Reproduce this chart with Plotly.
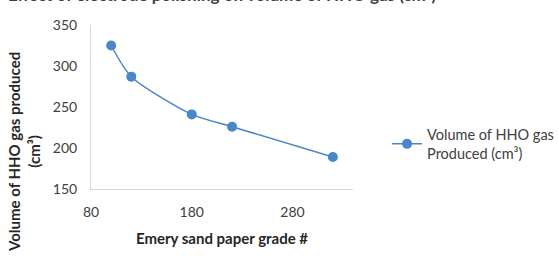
import plotly.graph_objects as go

grades = [100, 120, 180, 220, 320]
volume = [325, 287, 241, 226, 189]
x_ticks = [80, 180, 280]
y_ticks = [150, 200, 250, 300, 350]
title_text = "Effect of electrode polishing on volume of HHO gas (cm³)"
x_title = "Emery sand paper grade #"
y_title = "Volume of HHO gas produced<br>(cm³)"
legend_name = "Volume of HHO gas<br>Produced (cm³)"

FONT = "Lato"
blue = "#4a86c8"

fig = go.Figure()
fig.add_trace(go.Scatter(
    x=grades, y=volume, mode="lines+markers",
    name=legend_name,
    line=dict(color=blue, width=1.5, shape="spline", smoothing=0.7),
    marker=dict(color=blue, size=10),
))

# chart title (cut off at top edge as in reference)
fig.add_annotation(text="<b>" + title_text + "</b>", xref="paper", yref="paper",
                   x=0.5, y=1.183, xanchor="center", yanchor="middle", showarrow=False,
                   font=dict(family=FONT, size=17, color="#404040"))
# y-axis title
fig.add_annotation(text="<b>" + y_title + "</b>", xref="paper", yref="paper",
                   x=(24 - 91) / 262, y=(189 - 152) / 164, xanchor="center", yanchor="middle",
                   showarrow=False, textangle=-90,
                   font=dict(family=FONT, size=15, color="#262626"))

fig.update_layout(
    width=559, height=260,
    margin=dict(l=91, r=206, t=25, b=71, autoexpand=False),
    paper_bgcolor="white", plot_bgcolor="white",
    font=dict(family=FONT, size=14, color="#404040"),
    showlegend=True,
    legend=dict(x=1.13, y=(189 - 144) / 164, xanchor="left", yanchor="middle",
                font=dict(family=FONT, size=14.5, color="#404040"),
                bgcolor="rgba(0,0,0,0)", itemwidth=30),
    xaxis=dict(range=[80, 340], tickvals=x_ticks, showgrid=False, zeroline=False,
               showline=True, linecolor="#d9d9d9", linewidth=1, ticks="",
               ticklabelstandoff=10,
               title=dict(text="<b>" + x_title + "</b>", standoff=14,
                          font=dict(family=FONT, size=15, color="#262626"))),
    yaxis=dict(range=[150, 350], tickvals=y_ticks, showgrid=False, zeroline=False,
               showline=True, linecolor="#d9d9d9", linewidth=1, ticks="",
               ticklabelstandoff=10),
)

fig.write_html("out.html")
